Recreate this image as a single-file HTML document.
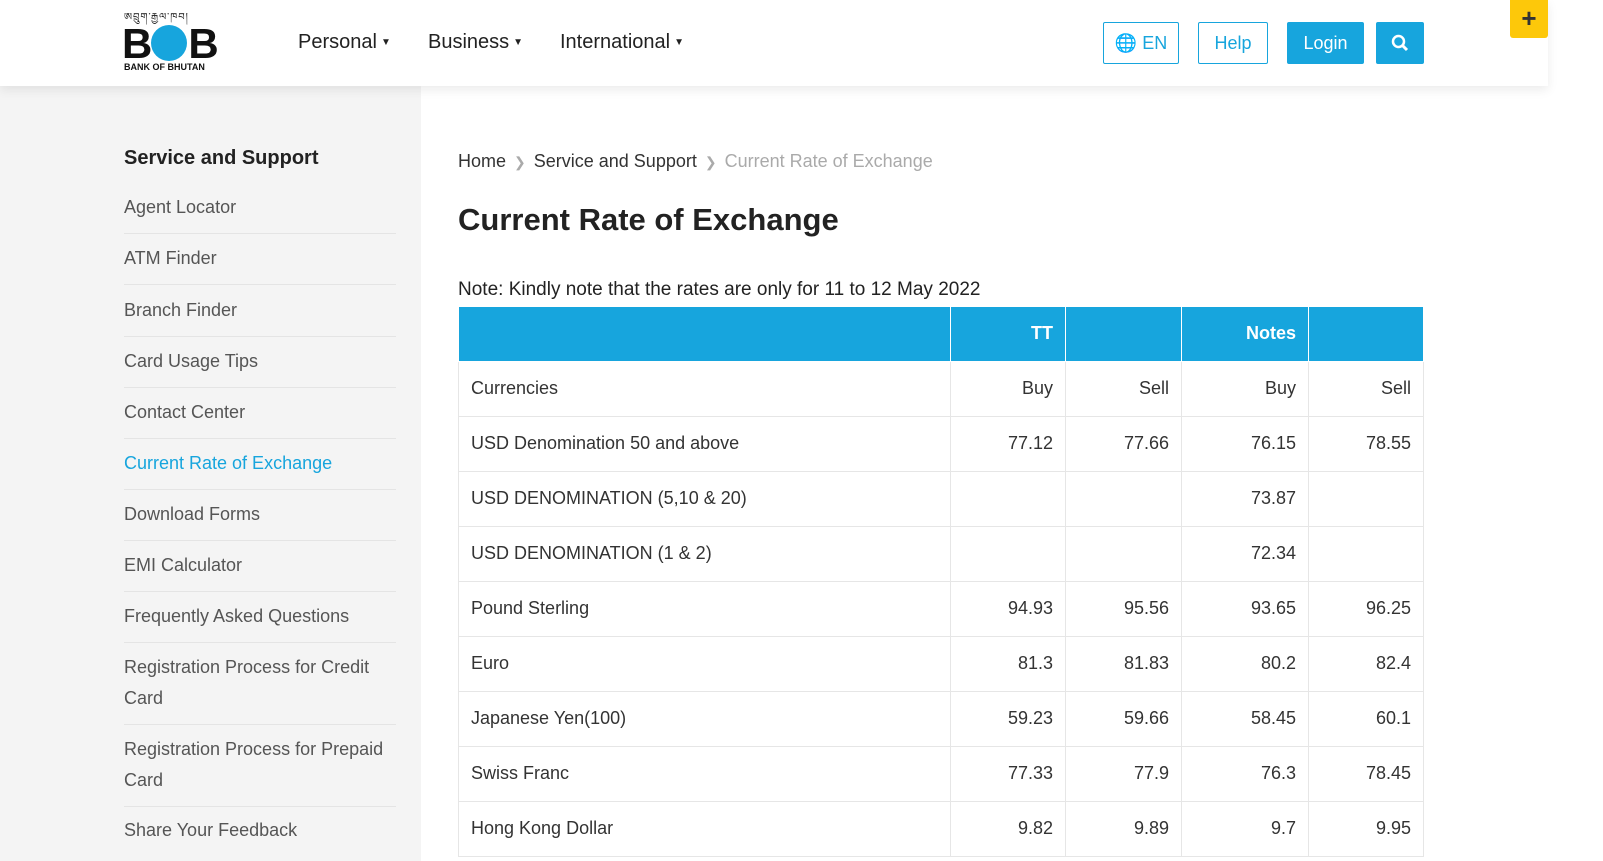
<!DOCTYPE html>
<html><head><meta charset="utf-8"><style>
*{box-sizing:border-box;margin:0;padding:0}
body{width:1603px;height:861px;overflow:hidden;background:#fff;font-family:"Liberation Sans",sans-serif;color:#333;position:relative}
.side{position:absolute;left:0;top:86px;width:421px;height:775px;background:#f4f4f4}
.hdr{position:absolute;left:0;top:0;width:1548px;height:86px;background:#fff;box-shadow:0 4px 10px rgba(0,0,0,.08);z-index:2}
.nav{position:absolute;top:31px;font-size:20px;color:#222}
.nav span{font-size:10px;vertical-align:3px;margin-left:4px}
.btn{position:absolute;top:22px;height:42px;border:1px solid #17a5dd;border-radius:2px;color:#17a5dd;font-size:18px;text-align:center;line-height:40px}
.fill{background:#17a5dd;color:#fff}
.plus{position:absolute;left:1510px;top:0;width:38px;height:38px;background:#fdc80a;border-radius:0 0 3px 3px;z-index:3;text-align:center;font-size:26px;font-weight:bold;line-height:36px;color:#333}
.sh{position:absolute;left:124px;top:147px;font-size:20px;font-weight:bold;color:#222}
.si{position:absolute;left:124px;width:272px;font-size:18px;color:#555;border-bottom:1px solid #e4e4e4;line-height:31px;padding-bottom:10px}
.bc{position:absolute;left:458px;top:151px;font-size:18px;color:#333}
.bc .g{color:#aaa}.bc .s{color:#aaa;margin:0 8px;font-size:14px}
h1{position:absolute;left:458px;top:202px;font-size:31px;font-weight:bold;color:#222}
.note{position:absolute;left:458px;top:279px;font-size:19px;color:#222}
table{position:absolute;left:458px;top:307px;border-collapse:collapse;font-size:18px;color:#333}
td{height:55px;border:1px solid #e6e6e6;padding:0 12px;text-align:right}
td:first-child{text-align:left}
tr.h td{background:#17a5dd;color:#fff;font-weight:bold;height:54px;border-color:#fff;border-top:none}
</style></head><body>
<div class="hdr">
 <div style="position:absolute;left:124px;top:6px;font-size:10px;color:#111;letter-spacing:1px">ཨབྲུག་རྒྱལ་ཁབ།</div>
 <div style="position:absolute;left:122px;top:20px;font-size:42px;font-weight:bold;color:#111;letter-spacing:-2px">B<span style="display:inline-block;width:36px;height:36px;border-radius:50%;background:#17a5dd;vertical-align:-3px;margin:0 1px"></span>B</div>
 <div style="position:absolute;left:124px;top:62px;font-size:9px;font-weight:bold;color:#111">BANK OF BHUTAN</div>
 <div class="nav" style="left:298px">Personal<span>▼</span></div>
 <div class="nav" style="left:428px">Business<span>▼</span></div>
 <div class="nav" style="left:560px">International<span>▼</span></div>
 <div class="btn" style="left:1103px;width:76px">🌐 EN</div>
 <div class="btn" style="left:1198px;width:70px">Help</div>
 <div class="btn fill" style="left:1287px;width:77px">Login</div>
 <div class="btn fill" style="left:1376px;width:48px">
  <svg width="18" height="18" viewBox="0 0 18 18" style="margin-top:11px"><circle cx="7.5" cy="7.5" r="5.5" stroke="#fff" stroke-width="2.5" fill="none"/><line x1="11.5" y1="11.5" x2="16" y2="16" stroke="#fff" stroke-width="3"/></svg></div>
</div>
<div class="plus">+</div>
<div class="side"></div>
<div class="sh">Service and Support</div>
<div class="si" style="top:192px">Agent Locator</div>
<div class="si" style="top:243px">ATM Finder</div>
<div class="si" style="top:295px">Branch Finder</div>
<div class="si" style="top:346px">Card Usage Tips</div>
<div class="si" style="top:397px">Contact Center</div>
<div class="si" style="top:448px;color:#17a5dd">Current Rate of Exchange</div>
<div class="si" style="top:499px">Download Forms</div>
<div class="si" style="top:550px">EMI Calculator</div>
<div class="si" style="top:601px">Frequently Asked Questions</div>
<div class="si" style="top:652px">Registration Process for Credit Card</div>
<div class="si" style="top:734px">Registration Process for Prepaid Card</div>
<div class="si" style="top:815px;border:none">Share Your Feedback</div>
<div class="bc">Home<span class="s">❯</span>Service and Support<span class="s">❯</span><span class="g">Current Rate of Exchange</span></div>
<h1>Current Rate of Exchange</h1>
<div class="note">Note: Kindly note that the rates are only for 11 to 12 May 2022</div>
<table>
<colgroup><col style="width:492px"><col style="width:115px"><col style="width:116px"><col style="width:127px"><col style="width:115px"></colgroup>
<tr class="h"><td></td><td>TT</td><td></td><td>Notes</td><td></td></tr>
<tr><td>Currencies</td><td>Buy</td><td>Sell</td><td>Buy</td><td>Sell</td></tr>
<tr><td>USD Denomination 50 and above</td><td>77.12</td><td>77.66</td><td>76.15</td><td>78.55</td></tr>
<tr><td>USD DENOMINATION (5,10 &amp; 20)</td><td></td><td></td><td>73.87</td><td></td></tr>
<tr><td>USD DENOMINATION (1 &amp; 2)</td><td></td><td></td><td>72.34</td><td></td></tr>
<tr><td>Pound Sterling</td><td>94.93</td><td>95.56</td><td>93.65</td><td>96.25</td></tr>
<tr><td>Euro</td><td>81.3</td><td>81.83</td><td>80.2</td><td>82.4</td></tr>
<tr><td>Japanese Yen(100)</td><td>59.23</td><td>59.66</td><td>58.45</td><td>60.1</td></tr>
<tr><td>Swiss Franc</td><td>77.33</td><td>77.9</td><td>76.3</td><td>78.45</td></tr>
<tr><td>Hong Kong Dollar</td><td>9.82</td><td>9.89</td><td>9.7</td><td>9.95</td></tr>
</table>
</body></html>
